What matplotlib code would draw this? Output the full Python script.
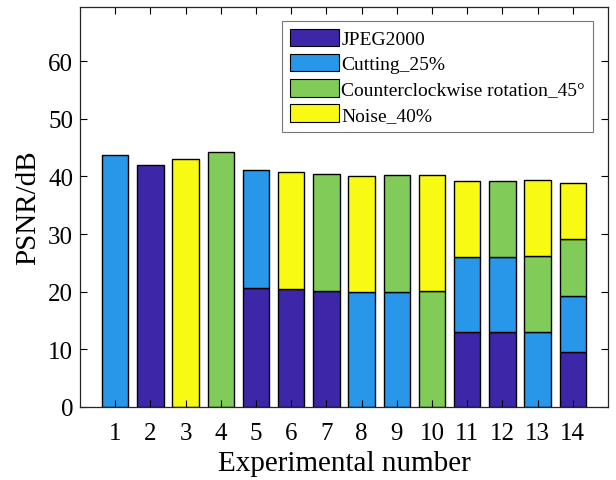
import matplotlib
matplotlib.use("Agg")
import matplotlib.pyplot as plt
import numpy as np

# segment heights per experiment (stack order: JPEG, cutting, rotation, noise)
experiments = list(range(1, 15))
jpeg2000 = [0, 42.0, 0, 0, 20.6, 20.4, 20.2, 0, 0, 0, 13.0, 13.0, 0, 9.6]
cutting = [43.7, 0, 0, 0, 20.6, 0, 0, 19.9, 20.0, 0, 13.1, 13.1, 13.0, 9.7]
rotation = [0, 0, 0, 44.3, 0, 0, 20.2, 0, 20.2, 20.2, 0, 13.1, 13.2, 9.8]
noise = [0, 0, 43.0, 0, 0, 20.3, 0, 20.1, 0, 20.1, 13.1, 0, 13.2, 9.8]

series_names = ["JPEG2000", "Cutting_25%", "Counterclockwise rotation_45°", "Noise_40%"]
series_colors = ["#3e26a8", "#2896e9", "#81cc59", "#f8fa14"]

plt.rcParams["font.family"] = ["Liberation Serif", "DejaVu Serif"]

fig = plt.figure(figsize=(6.16, 4.81), dpi=100)
ax = fig.add_axes([80 / 616, 1 - 408 / 481, 528 / 616, 400 / 481])

x = np.array(experiments)
bottom = np.zeros(len(x))
handles = []
for vals, name, col in zip([jpeg2000, cutting, rotation, noise], series_names, series_colors):
    vals = np.array(vals, dtype=float)
    m = vals > 0
    ax.bar(x[m], vals[m], bottom=bottom[m], width=0.75, color=col,
           edgecolor="black", linewidth=1.0)
    handles.append(plt.Rectangle((0, 0), 1, 1, facecolor=col, edgecolor="black", linewidth=0.8, label=name))
    bottom += vals

ax.set_xlim(0, 15)
ax.set_ylim(0, 69.4)
ax.set_xticks(experiments)
ax.set_yticks(np.arange(0, 61, 10))
ax.tick_params(direction="in", top=True, right=True, labelsize=18, length=5, width=0.8, pad=5)
ax.tick_params(axis="x", pad=11)
for s in ax.spines.values():
    s.set_linewidth(0.9)
    s.set_color("#262626")
ax.set_xlabel("Experimental number", fontsize=21, labelpad=4)
ax.set_ylabel("PSNR/dB", fontsize=21, labelpad=5)

leg = fig.legend(handles=handles, loc="upper right", bbox_to_anchor=(593 / 616, 1 - 22 / 481),
                 fontsize=14, frameon=True, fancybox=False, borderaxespad=0,
                 handlelength=2.5, handleheight=1.0, handletextpad=0.15, labelspacing=0.3,
                 borderpad=0.4)
leg.get_frame().set_edgecolor("#555555")
leg.get_frame().set_linewidth(0.8)

fig.savefig("out.png", dpi=100)
plt.close()
